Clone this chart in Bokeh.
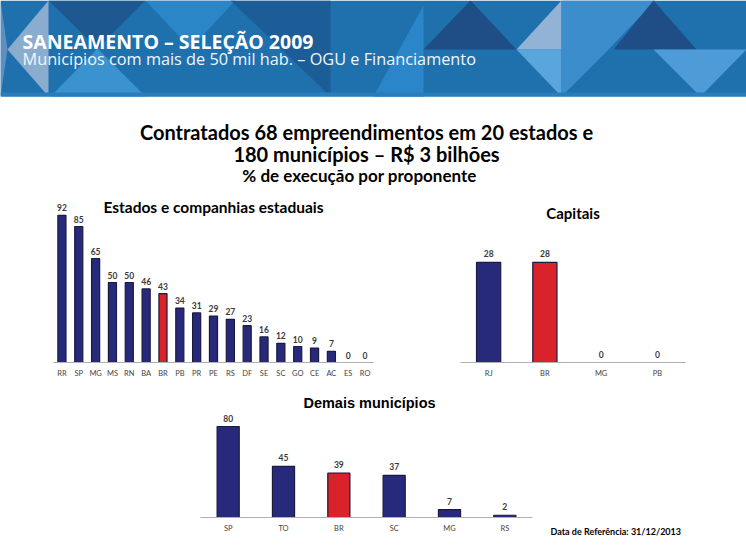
from bokeh.plotting import figure
from bokeh.layouts import column, row
from bokeh.models import ColumnDataSource, Label, Range1d, FixedTicker
from bokeh.core.properties import value
from bokeh.embed import file_html
from bokeh.resources import INLINE

# ---------------- data ----------------
est_cats = ["RR", "SP", "MG", "MS", "RN", "BA", "BR", "PB", "PR", "PE",
            "RS", "DF", "SE", "SC", "GO", "CE", "AC", "ES", "RO"]
est_vals = [92, 85, 65, 50, 50, 46, 43, 34, 31, 29, 27, 23, 16, 12, 10, 9, 7, 0, 0]

cap_cats = ["RJ", "BR", "MG", "PB"]
cap_vals = [28, 28, 0, 0]

dem_cats = ["SP", "TO", "BR", "SC", "MG", "RS"]
dem_vals = [80, 45, 39, 37, 7, 2]

header_title = "SANEAMENTO – SELEÇÃO 2009"
header_sub = "Municípios com mais de 50 mil hab. – OGU e Financiamento"
title_lines = ["Contratados 68 empreendimentos em 20 estados e",
               "180 municípios – R$ 3 bilhões"]
title_sub = "% de execução por proponente"
footer = "Data de Referência: 31/12/2013"

NAVY = "#272a7a"
RED = "#d9222a"
EDGE = "#1b1b3e"
BOLD_FONT = "Lato"

# ---------------- header + titles ----------------
h = figure(width=746, height=195, x_range=Range1d(0, 746), y_range=Range1d(195, 0),
           x_axis_location=None, y_axis_location=None, toolbar_location=None,
           output_backend="svg", min_border=0, outline_line_color=None)
h.grid.visible = False
h.background_fill_color = "white"
h.border_fill_color = "white"

h.quad(left=0, right=746, top=0, bottom=96, fill_color="#1f71ae", line_color=None)
tris = [
    ([48, 145, 97], [0, 0, 48], "#1d5891"),
    ([50, 97, 145], [96, 48, 96], "#3a92cf"),
    ([7, 48, 48], [49, 0, 96], "#8aaccf"),
    ([0, 7, 0], [0, 49, 96], "#5f8fc0"),
    ([145, 235, 190], [0, 0, 48], "#2a86c6"),
    ([230, 330, 330], [0, 0, 96], "#1c5d97"),
    ([373, 423, 423], [96, 96, 5], "#2a86c9"),
    ([423, 470, 516], [49, 0, 49], "#1f4d86"),
    ([516, 561, 561], [49, 0, 49], "#93b3d6"),
    ([516, 561, 561], [49, 49, 96], "#5aa6dc"),
    ([561, 655, 608, 561], [0, 0, 49, 96], "#3b8dcc"),
    ([613, 653, 696], [49, 0, 49], "#1f4d86"),
    ([653, 746, 700], [49, 49, 96], "#4f9bd8"),
]
for xs, ys, c in tris:
    h.patch(xs, ys, fill_color=c, line_color=None)
h.quad(left=0, right=746, top=92, bottom=96, fill_color="#2a7dbb", line_color=None)

h.add_layout(Label(x=22, y=41, text=header_title, text_font="Open Sans",
                   text_font_style="bold", text_font_size="19.5px", text_color="white",
                   text_baseline="middle"))
h.add_layout(Label(x=22, y=58, text=header_sub, text_font="Open Sans",
                   text_font_size="16.3px", text_color="#f2f6fa", text_baseline="middle"))

for t, yy in zip(title_lines, [131, 153]):
    h.add_layout(Label(x=366, y=yy, text=t, text_font=BOLD_FONT, text_font_style="bold",
                       text_font_size="20px", text_color="black", text_align="center",
                       text_baseline="middle"))
h.add_layout(Label(x=359, y=175, text=title_sub, text_font=BOLD_FONT, text_font_style="bold",
                   text_font_size="17px", text_color="black", text_align="center",
                   text_baseline="middle"))


def style_axis(ax):
    ax.axis_line_color = "#b0b0b0"
    ax.major_tick_line_color = None
    ax.minor_tick_line_color = None
    ax.major_tick_out = 0
    ax.major_tick_in = 0
    ax.major_label_text_font = BOLD_FONT
    ax.major_label_text_font_size = "7.5px"
    ax.major_label_text_color = "#444444"
    ax.major_label_standoff = 6


def make_src(cats, vals, xs=None):
    return ColumnDataSource(dict(
        x=cats if xs is None else xs, val=vals,
        color=[RED if c == "BR" else NAVY for c in cats],
        edge=[EDGE if v > 0 else "#555555" for v in vals],
        label=[str(v) for v in vals]))


def draw_bars(p, src, bar_w, label_offset):
    p.vbar(x="x", top="val", width=bar_w, fill_color="color", line_color="edge",
           line_width=1.2, source=src)
    p.text(x="x", y="val", text="label", text_align="center", text_baseline="bottom",
           y_offset=label_offset, text_font=value(BOLD_FONT), text_font_style="bold",
           text_font_size="8.5px", text_color="#3a3a3a", source=src)


def bar_chart(cats, vals, width, height, lb, rb, tb, bb, ymax, bar_w, title, tx, ty,
              title_font, title_size, label_offset):
    p = figure(x_range=cats, y_range=Range1d(0, ymax), width=width, height=height,
               min_border_left=lb, min_border_right=rb, min_border_top=tb,
               min_border_bottom=bb, y_axis_location=None, toolbar_location=None,
               output_backend="svg", outline_line_color=None)
    p.grid.visible = False
    draw_bars(p, make_src(cats, vals), bar_w, label_offset)
    style_axis(p.xaxis[0])
    p.add_layout(Label(x=tx, y=ty, text=title, text_font=title_font, text_font_style="bold",
                       text_font_size=title_size, text_color="black", text_align="center",
                       text_baseline="middle"))
    return p


p1 = bar_chart(est_cats, est_vals, 440, 190, 53, 67, 5, 23, 101.25, 0.48,
               "Estados e companhias estaduais", 9.5, 96.9, BOLD_FONT, "15.5px", -4)
p2 = bar_chart(cap_cats, cap_vals, 306, 190, 20, 61, 5, 22, 45.3, 0.43,
               "Capitais", 2.0, 41.9, BOLD_FONT, "15px", -5)

# ---------------- bottom chart (full-width frame, numeric positions) ----------------
cw = 332 / len(dem_cats)          # pixel width of one category slot
unit = 1.1375                     # pixels per percentage point
idx = list(range(len(dem_cats)))
p3 = figure(width=746, height=169,
            x_range=Range1d(-0.5 - 200 / cw, -0.5 + 546 / cw),
            y_range=Range1d(-19 / unit, 125 / unit),
            min_border_left=0, min_border_right=0, min_border_top=7, min_border_bottom=18,
            y_axis_location=None, toolbar_location=None, output_backend="svg",
            outline_line_color=None)
p3.grid.visible = False
draw_bars(p3, make_src(dem_cats, dem_vals, idx), 0.4, -5)
p3.segment(x0=[-0.5], x1=[len(dem_cats) - 0.5], y0=[0], y1=[0], line_color="#b0b0b0",
           line_width=1)
ax3 = p3.xaxis[0]
style_axis(ax3)
ax3.axis_line_color = None
ax3.fixed_location = 0
ax3.ticker = FixedTicker(ticks=idx)
ax3.major_label_overrides = {i: c for i, c in zip(idx, dem_cats)}
p3.add_layout(Label(x=(369 - 200) / cw - 0.5, y=101, text="Demais municípios",
                    text_font="Liberation Sans", text_font_style="bold",
                    text_font_size="14.5px", text_color="black", text_align="center",
                    text_baseline="middle"))
p3.add_layout(Label(x=(550 - 200) / cw - 0.5, y=-12.3, text=footer, text_font=BOLD_FONT,
                    text_font_style="bold", text_font_size="9px", text_color="black",
                    text_baseline="middle"))

layout = column(h, row(p1, p2), p3)
open("out.html", "w").write(file_html(layout, INLINE))
